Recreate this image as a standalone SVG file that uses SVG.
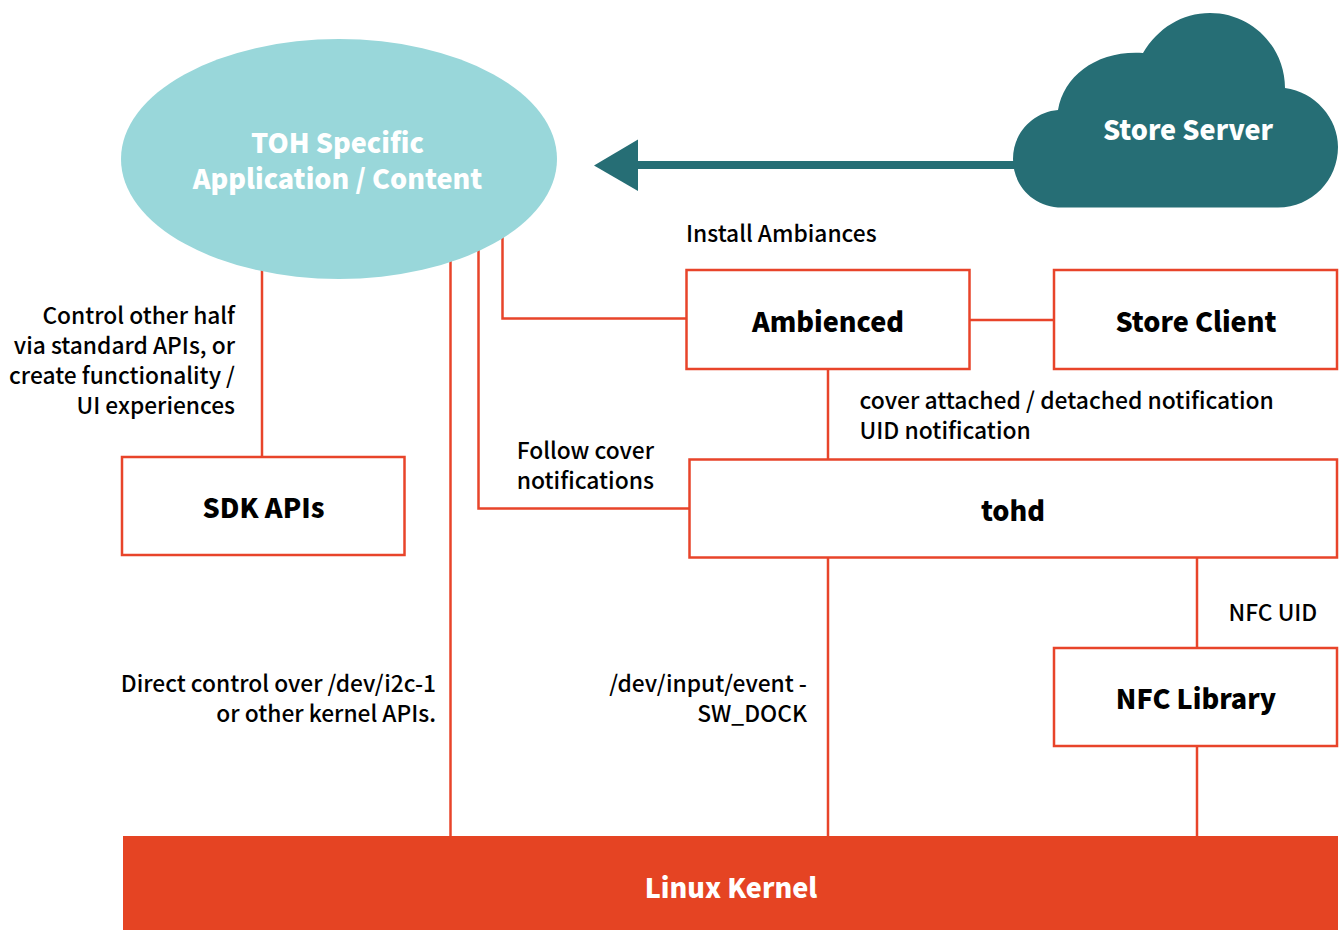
<svg xmlns="http://www.w3.org/2000/svg" width="1342" height="930" viewBox="0 0 1342 930">
<style>
text{font-family:"Noto Sans CJK SC","Noto Sans CJK JP","Source Sans Pro","Open Sans",sans-serif;}
.b{fill:#fff;stroke:#e8442a;stroke-width:2.5}
.c{fill:none;stroke:#e8442a;stroke-width:2.5}
.t{font-size:27px;font-weight:900;fill:#000;text-anchor:middle}
.w{font-size:27px;font-weight:900;fill:#fff;text-anchor:middle}
.l{font-size:22.75px;font-weight:500;fill:#000}
.m{font-size:22.9px}
.r{text-anchor:end}
</style>
<rect width="1342" height="930" fill="#fff"/>
<g id="connectors">
<path class="c" d="M262 270V457"/>
<path class="c" d="M450.500 255V836"/>
<path class="c" d="M478.500 245V508.500H689"/>
<path class="c" d="M502.500 235V318.500H686"/>
<path class="c" d="M970 320H1054"/>
<path class="c" d="M828 369V459"/>
<path class="c" d="M828 558V836"/>
<path class="c" d="M1197 558V648"/>
<path class="c" d="M1197 746V836"/>
<path d="M1020 165H638" fill="none" stroke="#266e75" stroke-width="8"/>
<path d="M594 165.500L638 139.500V191Z" fill="#266e75"/>
</g>
<g id="toh-app"><ellipse cx="339" cy="159" rx="218" ry="120" fill="#99d7da"/><text class="w" x="337.500" y="152.500">TOH Specific</text><text class="w" x="337.500" y="189">Application / Content</text></g>
<g id="store-server"><path d="M1062 207.500C1034 207.500 1013 186 1013 159C1013 133 1033 112 1058 110C1064 75 1098 50 1143 53C1158 28 1182 13 1210 13C1252 13 1285 47 1285 88C1315 92 1338 118 1338 147C1338 180 1312 207.500 1278 207.500Z" fill="#266e75"/><text class="w" x="1188" y="140">Store Server</text></g>
<g id="ambienced"><rect class="b" x="686.500" y="270" width="283" height="99"/><text class="t" x="828" y="331.500">Ambienced</text></g>
<g id="store-client"><rect class="b" x="1054" y="270" width="283" height="99"/><text class="t" x="1196" y="331.500">Store Client</text></g>
<g id="sdk-apis"><rect class="b" x="122" y="457" width="282.500" height="98"/><text class="t" x="263.500" y="518">SDK APIs</text></g>
<g id="tohd"><rect class="b" x="689.500" y="459.500" width="647.500" height="98"/><text class="t" x="1013" y="520.500">tohd</text></g>
<g id="nfc-library"><rect class="b" x="1054" y="648" width="283" height="98"/><text class="t" x="1196" y="709">NFC Library</text></g>
<g id="linux-kernel"><rect x="123" y="836" width="1215" height="94" fill="#e54423"/><text class="w" x="731" y="898">Linux Kernel</text></g>
<g id="labels">
<text class="l" x="686" y="242">Install Ambiances</text>
<text class="l r" x="235" y="324">Control other half</text>
<text class="l r" x="235" y="354">via standard APIs, or</text>
<text class="l r" x="235" y="384">create functionality /</text>
<text class="l r" x="235" y="414">UI experiences</text>
<text class="l m" x="859.500" y="409">cover attached / detached notification</text>
<text class="l m" x="859.500" y="438.500">UID notification</text>
<text class="l r" x="654" y="458.500">Follow cover</text>
<text class="l m r" x="654" y="489">notifications</text>
<text class="l" x="1228.500" y="620.500">NFC UID</text>
<text class="l r" x="436" y="692">Direct control over /dev/i2c-1</text>
<text class="l r" x="436" y="722">or other kernel APIs.</text>
<text class="l r" x="807" y="692">/dev/input/event -</text>
<text class="l r" x="807" y="722">SW_DOCK</text>
</g>
</svg>
